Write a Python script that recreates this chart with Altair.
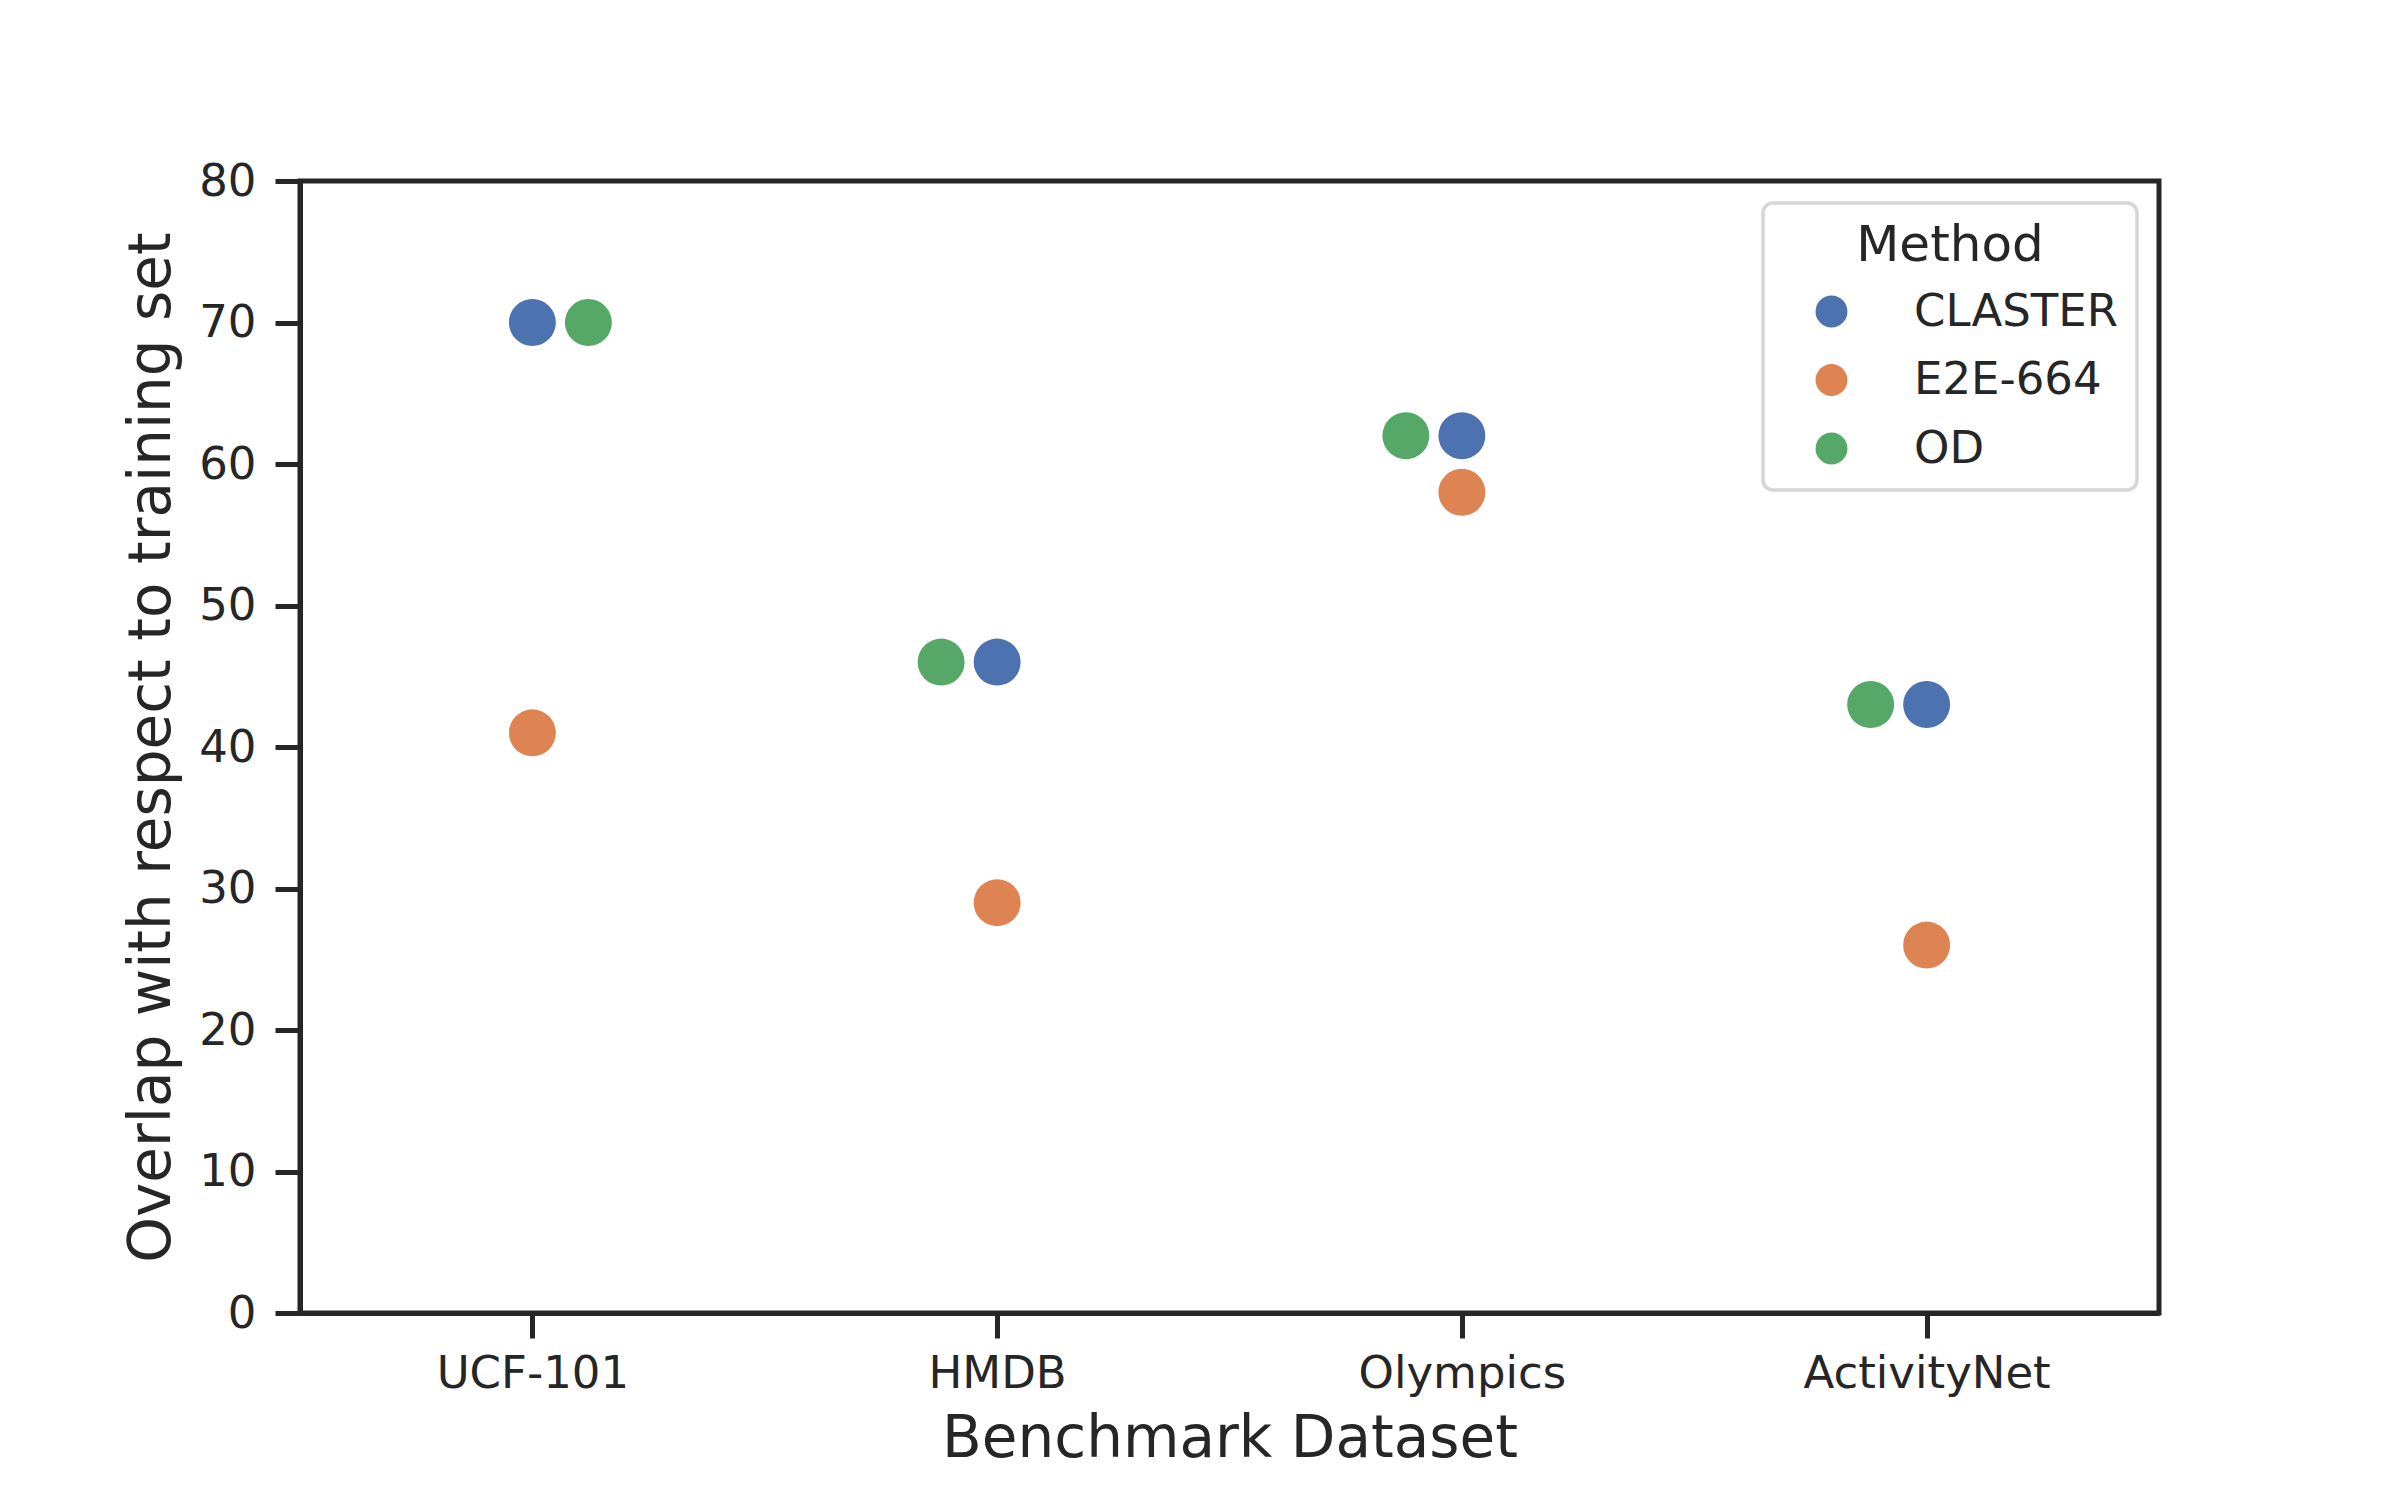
import json
import math
import altair as alt
import pandas as pd

# ---- data ----
datasets = ["UCF-101", "HMDB", "Olympics", "ActivityNet"]
methods = ["CLASTER", "E2E-664", "OD"]
claster = [70, 46, 62, 43]
e2e = [41, 29, 58, 26]
od = [70, 46, 62, 43]
swarm_side = [1, -1, -1, -1]  # side to which tied points are pushed (swarm)
colors = ["#4C72B0", "#DD8452", "#55A868"]

# ---- layout ----
W, H = 1859, 1132
FONT = "DejaVu Sans"
INK = "#262626"
marker_size = 2206
marker_d = math.sqrt(marker_size * 4 / math.pi)
px_per_unit = W / len(datasets)
swarm_step = (marker_d + 3) / px_per_unit

rows = []
for i, ds in enumerate(datasets):
    seen = {}
    for m, vals in zip(methods, [claster, e2e, od]):
        v = vals[i]
        k = seen.get(v, 0)
        rows.append({"dataset": ds, "method": m, "value": v,
                     "pos": i + swarm_side[i] * k * swarm_step})
        seen[v] = k + 1
df = pd.DataFrame(rows)

label_expr = json.dumps(datasets) + "[datum.value]"

chart = alt.Chart(df).mark_circle(size=marker_size, opacity=1, strokeWidth=0).encode(
    x=alt.X("pos:Q",
            scale=alt.Scale(domain=[-0.5, len(datasets) - 0.5], nice=False, zero=False),
            axis=alt.Axis(title="Benchmark Dataset", values=list(range(len(datasets))),
                          labelExpr=label_expr, grid=False, labelLimit=0,
                          labelPadding=13, titlePadding=14)),
    y=alt.Y("value:Q",
            scale=alt.Scale(domain=[0, 80], nice=False),
            axis=alt.Axis(title="Overlap with respect to training set",
                          values=list(range(0, 81, 10)), grid=False,
                          labelPadding=19, titlePadding=17)),
    color=alt.Color("method:N",
                    scale=alt.Scale(domain=methods, range=colors),
                    legend=alt.Legend(title="Method", orient="top-right", offset=22,
                                      titleAnchor="middle", titleFontSize=50,
                                      titleFontWeight="normal", titleFont=FONT,
                                      titleColor=INK, titlePadding=18, titleLimit=0,
                                      labelFontSize=45, labelFont=FONT, labelColor=INK,
                                      labelLimit=0,
                                      symbolType="circle", symbolSize=1018,
                                      symbolStrokeWidth=0, symbolOpacity=1,
                                      symbolOffset=28, labelOffset=60,
                                      rowPadding=22.5, padding=18,
                                      fillColor="white", strokeColor="#d6d6d6",
                                      cornerRadius=10)),
).properties(
    width=W, height=H,
    autosize=alt.AutoSizeParams(type="none"),
    padding={"left": 292, "top": 173, "right": 233, "bottom": 179},
).configure_view(
    stroke=INK, strokeWidth=5
).configure_axis(
    domainColor=INK, domainWidth=5, tickColor=INK, tickWidth=5, tickSize=25,
    labelFont=FONT, labelFontSize=45, labelColor=INK, labelLimit=0,
    titleFont=FONT, titleFontSize=58, titleFontWeight="normal", titleColor=INK,
).configure_legend(
    strokeWidth=3.5
)

chart.save("out.html", embed_options={"renderer": "svg", "actions": False})
